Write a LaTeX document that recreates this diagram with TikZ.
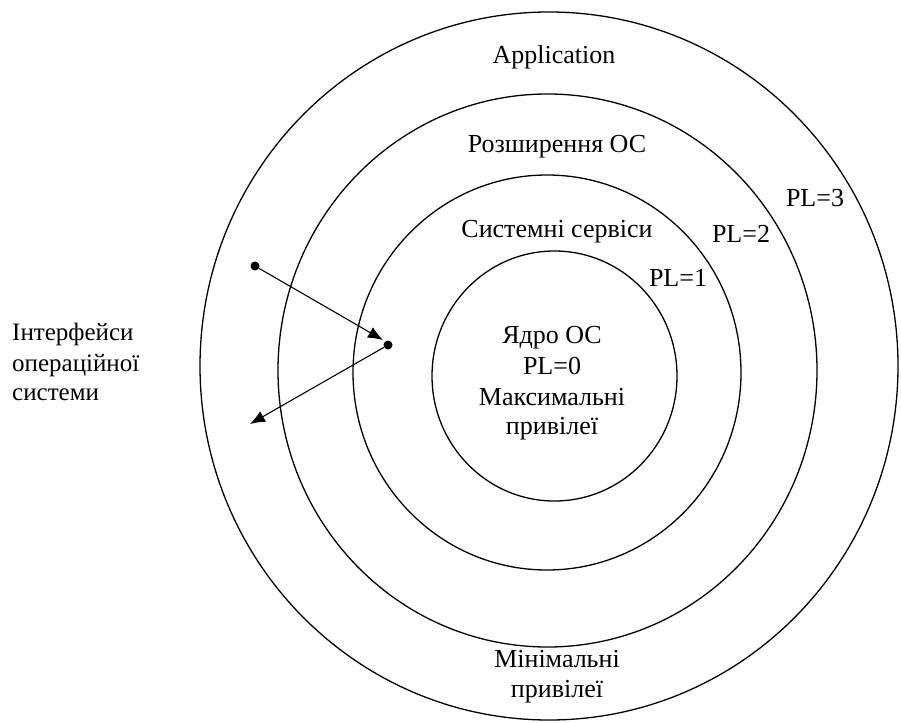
\documentclass[tikz,border=0pt]{standalone}
\usepackage{fontspec}
\setmainfont{Liberation Serif}
\usetikzlibrary{arrows.meta}
\begin{document}
\begin{tikzpicture}[x=1pt,y=-1pt,
  ring/.style={line width=1.3pt},
  lbl/.style={anchor=base,inner sep=0pt,font=\fontsize{26}{30}\selectfont},
  side/.style={anchor=base west,inner sep=0pt,font=\fontsize{25}{30}\selectfont},
  dot/.style={circle,fill=black,inner sep=0pt,minimum size=9pt},
  arr/.style={line width=1.1pt,-{Latex[length=15pt,width=12pt]}}]
\useasboundingbox (0,0) rectangle (901,722);
% rings
\draw[ring] (554.5,376) ellipse [x radius=122.5pt, y radius=125pt];
\draw[ring] (547,372.5) ellipse [x radius=194pt, y radius=197.5pt];
\draw[ring] (547.5,370.5) ellipse [x radius=269.5pt, y radius=276.5pt];
\draw[ring] (549,366) ellipse [x radius=349pt, y radius=354pt];
% labels
\node[lbl] (app) at (554,64) {Application};
\node[lbl] (ext) at (557,153) {Розширення ОС};
\node[lbl] (svc) at (557,237) {Системні сервіси};
\node[lbl] (pl1) at (678,286) {PL=1};
\node[lbl] (pl2) at (741,242) {PL=2};
\node[lbl] (pl3) at (815,206) {PL=3};
\node[lbl] (k1) at (552,343) {Ядро ОС};
\node[lbl] (k2) at (552,374) {PL=0};
\node[lbl] (k3) at (552,405) {Максимальні};
\node[lbl] (k4) at (552,434) {привілеї};
\node[lbl] (m1) at (557,667) {Мінімальні};
\node[lbl] (m2) at (557,697) {привілеї};
\node[side] (i1) at (12,340) {Інтерфейси};
\node[side] (i2) at (12,371) {операційної};
\node[side] (i3) at (12,400) {системи};
% arrows
\node[dot] (d1) at (255,266) {};
\node[dot] (d2) at (388,345) {};
\coordinate (t1) at (383,340);
\coordinate (t2) at (250,424);
\draw[arr] (d1) -- (t1);
\draw[arr] (d2) -- (t2);
\end{tikzpicture}
\end{document}
